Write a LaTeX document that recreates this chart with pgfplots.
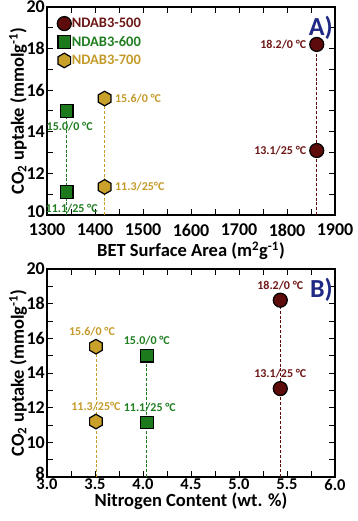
\documentclass[border=0pt]{standalone}
\usepackage{fontspec}
\setmainfont{Carlito}
\usepackage{pgfplots}
\pgfplotsset{compat=1.18}

\definecolor{cred}{HTML}{5E0B0B}
\definecolor{cgreen}{HTML}{1C7A1C}
\definecolor{cgold}{HTML}{C9A02A}
\definecolor{tred}{HTML}{6E1717}
\definecolor{tgreen}{HTML}{217E21}
\definecolor{tgold}{HTML}{C49A2A}
\definecolor{navy}{HTML}{1F2A85}

% pointy-top hexagon marker
\pgfdeclareplotmark{hexagon*}{%
  \pgfpathmoveto{\pgfqpointpolar{90}{\pgfplotmarksize}}%
  \pgfpathlineto{\pgfqpointpolar{150}{\pgfplotmarksize}}%
  \pgfpathlineto{\pgfqpointpolar{210}{\pgfplotmarksize}}%
  \pgfpathlineto{\pgfqpointpolar{270}{\pgfplotmarksize}}%
  \pgfpathlineto{\pgfqpointpolar{330}{\pgfplotmarksize}}%
  \pgfpathlineto{\pgfqpointpolar{30}{\pgfplotmarksize}}%
  \pgfpathclose
  \pgfusepathqfillstroke}

\pgfplotsset{
  panel/.style={
    scale only axis, width=288pt, height=208pt,
    axis line style={line width=1.4pt},
    tick style={black, line width=1pt},
    major tick length=6pt, minor tick length=6pt,
    tick align=inside,
    ticklabel style={font=\fontsize{18}{18}\selectfont\bfseries, inner sep=1pt},
    /pgf/number format/assume math mode=true,
    label style={font=\fontsize{18.5}{18.5}\selectfont\bfseries, inner sep=1pt},
    ylabel={CO\textsubscript{2} uptake (mmolg\textsuperscript{-1})},
    yticklabel style={xshift=-1pt},
    ylabel style={at={(axis description cs:-0.1007,0.5)}, anchor=center},
  },
  comb/.style={ycomb, no marks, dashed, line width=0.8pt, dash pattern=on 3pt off 1.8pt, forget plot},
  m500/.style={only marks, mark=*, mark size=7pt, mark options={fill=cred, draw=black, line width=1.2pt}},
  m600/.style={only marks, mark=square*, mark size=6.3pt, mark options={fill=cgreen, draw=black, line width=1.2pt, rounded corners=1.5pt}},
  m700/.style={only marks, mark=hexagon*, mark size=7.3pt, mark options={fill=cgold, draw=black, line width=1.2pt}},
}
\newcommand\ann{\fontsize{12}{12}\selectfont\bfseries}

\begin{document}
\begin{tikzpicture}
\useasboundingbox (-47pt,-306pt) rectangle (311pt,215pt);

% ---- panel A
\begin{axis}[panel,
  at={(0,0)},
  xmin=1300, xmax=1900, ymin=10, ymax=20,
  xtick={1300,1400,...,1900}, minor xtick={1350,1450,...,1850},
  ytick={10,12,...,20}, minor ytick={11,13,...,19},
  yticklabels={\raisebox{7pt}{10},12,14,16,18,20},
  /pgf/number format/1000 sep={},
  xticklabel style={anchor=center, yshift=-15pt},
  xlabel={BET Surface Area (m\textsuperscript{2}g\textsuperscript{-1})},
  xlabel style={at={(axis description cs:0.5,0)}, anchor=center, yshift=-36pt},
  legend style={at={(0.035,0.955)}, anchor=north west, draw=none, fill=none,
    font=\fontsize{14.5}{14.5}\selectfont\bfseries, inner sep=0pt,
    row sep=5pt, nodes={inner sep=0.5pt}},
  legend cell align=left,
]
  \addplot[comb, cred] coordinates {(1862,18.2) (1862,13.1)};
  \addplot[comb, cgreen] coordinates {(1341,15.0) (1341,11.1)};
  \addplot[comb, cgold] coordinates {(1420,15.6) (1420,11.35)};
  \addplot[m500] coordinates {(1862,18.2) (1862,13.1)};
  \addlegendentry{\textcolor{tred}{NDAB3-500}}
  \addplot[m600] coordinates {(1341,15.0) (1341,11.1)};
  \addlegendentry{\textcolor{tgreen}{NDAB3-600}}
  \addplot[m700] coordinates {(1420,15.6) (1420,11.35)};
  \addlegendentry{\textcolor{tgold}{NDAB3-700}}

  \node[anchor=east, text=tred, font=\ann] at ([xshift=-7pt]axis cs:1862,18.2) {18.2/0 °C};
  \node[anchor=east, text=tred, font=\ann] at ([xshift=-7pt]axis cs:1862,13.1) {13.1/25 °C};
  \node[anchor=west, text=tgold, font=\ann] at ([xshift=7pt]axis cs:1420,15.6) {15.6/0 °C};
  \node[anchor=west, text=tgold, font=\ann] at ([xshift=7pt]axis cs:1420,11.35) {11.3/25°C};
  \node[anchor=north, text=tgreen, font=\ann] at ([xshift=3pt,yshift=-8pt]axis cs:1341,15.0) {15.0/0 °C};
  \node[anchor=north, text=tgreen, font=\ann] at ([xshift=5pt,yshift=-8pt]axis cs:1341,11.1) {11.1/25 °C};
  \node[anchor=north east, text=navy, font=\fontsize{26}{26}\selectfont\bfseries, inner sep=0pt]
    at ([xshift=-2pt,yshift=-9pt]rel axis cs:1,1) {A)};
\end{axis}

% ---- panel B
\begin{axis}[panel,
  at={(0,-262pt)},
  xmin=3, xmax=6, ymin=8, ymax=20,
  xtick={3,3.5,...,6}, minor xtick={3.25,3.75,...,5.75},
  ytick={8,10,...,20}, minor ytick={9,11,...,19},
  yticklabels={\raisebox{7pt}{8},10,12,14,16,18,20},
  xticklabel={\pgfmathprintnumber[fixed, fixed zerofill, precision=1]{\tick}},
  xticklabel style={anchor=center, yshift=-7.5pt, font=\fontsize{16.5}{16.5}\selectfont\bfseries},
  xlabel={Nitrogen Content (wt. \%)},
  xlabel style={at={(axis description cs:0.5,0)}, anchor=center, yshift=-24.5pt},
]
  \addplot[comb, cred] coordinates {(5.43,18.2) (5.43,13.1)};
  \addplot[comb, cgreen] coordinates {(4.04,15.0) (4.04,11.15)};
  \addplot[comb, cgold] coordinates {(3.51,15.52) (3.51,11.2)};
  \addplot[m500] coordinates {(5.43,18.2) (5.43,13.1)};
  \addplot[m600] coordinates {(4.04,15.0) (4.04,11.15)};
  \addplot[m700] coordinates {(3.51,15.52) (3.51,11.2)};

  \node[anchor=south, text=tred, font=\ann] at ([yshift=7pt]axis cs:5.43,18.2) {18.2/0 °C};
  \node[anchor=south, text=tred, font=\ann] at ([yshift=7pt]axis cs:5.43,13.1) {13.1/25 °C};
  \node[anchor=south, text=tgold, font=\ann] at ([xshift=-4pt,yshift=7pt]axis cs:3.51,15.52) {15.6/0 °C};
  \node[anchor=south, text=tgold, font=\ann] at ([yshift=7pt]axis cs:3.51,11.2) {11.3/25°C};
  \node[anchor=south, text=tgreen, font=\ann] at ([yshift=7pt]axis cs:4.04,15.0) {15.0/0 °C};
  \node[anchor=south, text=tgreen, font=\ann] at ([xshift=3pt,yshift=7pt]axis cs:4.04,11.15) {11.1/25 °C};
  \node[anchor=north east, text=navy, font=\fontsize{26}{26}\selectfont\bfseries, inner sep=0pt]
    at ([xshift=-2pt,yshift=-9pt]rel axis cs:1,1) {B)};
\end{axis}
\end{tikzpicture}
\end{document}
